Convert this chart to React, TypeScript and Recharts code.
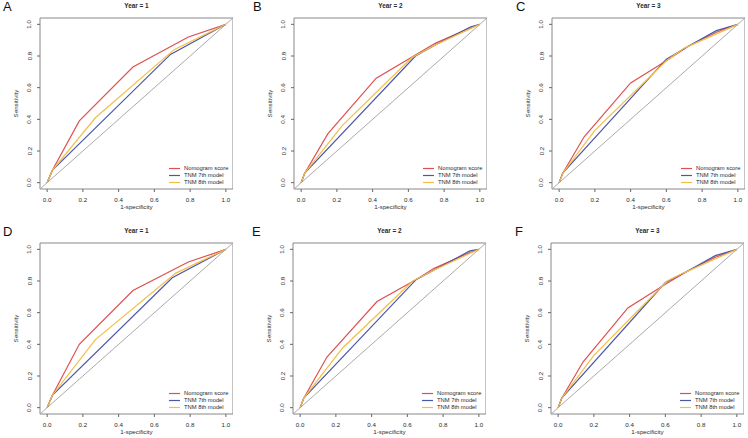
import { Legend, Line, LineChart, ReferenceArea, ReferenceLine, XAxis, YAxis } from "recharts"

// ROC curve points as [1-specificity, sensitivity]
const nomogramA = [[0, 0], [0.015, 0.04], [0.03, 0.08], [0.18, 0.39], [0.48, 0.73], [0.79, 0.92], [1, 1]]
const tnm7A = [[0, 0], [0.015, 0.04], [0.03, 0.08], [0.69, 0.81], [1, 1]]
const tnm8A = [[0, 0], [0.015, 0.04], [0.03, 0.08], [0.27, 0.41], [0.71, 0.84], [1, 1]]

const nomogramB = [[0, 0], [0.02, 0.06], [0.15, 0.31], [0.42, 0.66], [0.63, 0.8], [0.75, 0.88], [0.95, 0.98], [1, 1]]
const tnm7B = [[0, 0], [0.02, 0.06], [0.64, 0.8], [0.75, 0.87], [0.95, 0.985], [1, 1]]
const tnm8B = [[0, 0], [0.02, 0.06], [0.23, 0.36], [0.62, 0.79], [0.75, 0.87], [1, 1]]

const nomogramC = [[0, 0], [0.02, 0.06], [0.14, 0.29], [0.4, 0.63], [0.6, 0.77], [0.72, 0.86], [0.88, 0.95], [1, 1]]
const tnm7C = [[0, 0], [0.02, 0.06], [0.6, 0.78], [0.72, 0.86], [0.88, 0.96], [1, 1]]
const tnm8C = [[0, 0], [0.02, 0.06], [0.2, 0.33], [0.6, 0.77], [0.7, 0.85], [1, 1]]

const nomogramD = [[0, 0], [0.015, 0.04], [0.03, 0.08], [0.18, 0.4], [0.48, 0.74], [0.79, 0.92], [1, 1]]
const tnm7D = [[0, 0], [0.015, 0.04], [0.03, 0.08], [0.7, 0.82], [1, 1]]
const tnm8D = [[0, 0], [0.015, 0.04], [0.03, 0.08], [0.27, 0.43], [0.72, 0.85], [1, 1]]

const nomogramE = [[0, 0], [0.02, 0.06], [0.15, 0.32], [0.43, 0.67], [0.65, 0.81], [0.75, 0.88], [0.95, 0.98], [1, 1]]
const tnm7E = [[0, 0], [0.02, 0.06], [0.65, 0.81], [0.75, 0.87], [0.95, 0.99], [1, 1]]
const tnm8E = [[0, 0], [0.02, 0.06], [0.24, 0.38], [0.63, 0.8], [0.75, 0.87], [1, 1]]

const nomogramF = [[0, 0], [0.02, 0.06], [0.14, 0.29], [0.39, 0.63], [0.6, 0.78], [0.72, 0.86], [0.88, 0.95], [1, 1]]
const tnm7F = [[0, 0], [0.02, 0.06], [0.6, 0.79], [0.72, 0.86], [0.88, 0.96], [1, 1]]
const tnm8F = [[0, 0], [0.02, 0.06], [0.2, 0.33], [0.61, 0.8], [0.7, 0.85], [1, 1]]

const seriesNames = ["Nomogram score", "TNM 7th model", "TNM 8th model"]
const seriesColors = ["#e04f4f", "#4a58a8", "#f5bd45"]
const ticks = [0, 0.2, 0.4, 0.6, 0.8, 1]

const FONT = '"Liberation Sans", Arial, sans-serif'
const TEXT = "#2a2a2a"
const PLOT_W = 193
const PLOT_H = 171
const LEFT = 40
const TOP = 18
const BOTTOM = 26

const toPts = (arr: number[][]) => arr.map(([x, y]) => ({ x, y }))

const XTick = ({ x, y, payload }: any) => (
  <text x={x} y={y} dy={8} textAnchor="middle" fontSize={6.2} fill={TEXT} fontFamily={FONT}>
    {payload.value.toFixed(1)}
  </text>
)

const YTick = ({ x, y, payload }: any) => (
  <text
    x={x}
    y={y}
    transform={`rotate(-90 ${x} ${y})`}
    textAnchor="middle"
    fontSize={6.2}
    fill={TEXT}
    fontFamily={FONT}
  >
    {payload.value.toFixed(1)}
  </text>
)

const LegendBox = () => (
  <div style={{ fontFamily: FONT, fontSize: 5.8, color: TEXT, lineHeight: "7px" }}>
    {seriesNames.map((n, i) => (
      <div key={n} style={{ display: "flex", alignItems: "center", height: 7 }}>
        <svg width={11} height={7} style={{ marginRight: 4 }}>
          <line x1={0} x2={11} y1={3.5} y2={3.5} stroke={seriesColors[i]} strokeWidth={1.2} />
        </svg>
        <span style={{ whiteSpace: "nowrap" }}>{n}</span>
      </div>
    ))}
  </div>
)

type PanelProps = {
  letter: string
  title: string
  left: number
  top: number
  curves: number[][][]
}

function Panel({ letter, title, left, top, curves }: PanelProps) {
  return (
    <div style={{ position: "absolute", left, top, width: LEFT + PLOT_W, height: TOP + PLOT_H + BOTTOM }}>
      <LineChart
        width={LEFT + PLOT_W}
        height={TOP + PLOT_H + BOTTOM}
        margin={{ top: TOP, right: 0, bottom: 0, left: 0 }}
      >
        <XAxis
          type="number"
          dataKey="x"
          domain={[-0.04, 1.04]}
          ticks={ticks}
          allowDataOverflow
          height={BOTTOM}
          axisLine={false}
          tickSize={3}
          tickMargin={2}
          tickLine={{ stroke: "#666" }}
          tick={<XTick />}
          label={{ value: "1-specificity", position: "insideBottom", offset: 6, fontSize: 6.2, fill: TEXT, fontFamily: FONT }}
        />
        <YAxis
          type="number"
          dataKey="y"
          domain={[-0.04, 1.04]}
          ticks={ticks}
          allowDataOverflow
          width={LEFT}
          axisLine={false}
          tickSize={3}
          tickMargin={5.5}
          tickLine={{ stroke: "#666" }}
          tick={<YTick />}
          label={{
            value: "Sensitivity",
            angle: -90,
            position: "insideLeft",
            offset: 15.5,
            fontSize: 6.2,
            fill: TEXT,
            fontFamily: FONT,
            style: { textAnchor: "middle" },
          }}
        />
        <ReferenceArea
          x1={-0.04}
          x2={1.04}
          y1={-0.04}
          y2={1.04}
          fill="none"
          stroke="#888"
          strokeWidth={1}
          ifOverflow="visible"
          label={{ value: title, position: "top", offset: 10, fontSize: 6.4, fontWeight: "bold", fill: TEXT, fontFamily: FONT }}
        />
        <ReferenceLine
          segment={[{ x: -0.04, y: -0.04 }, { x: 1.04, y: 1.04 }]}
          stroke="#aaa"
          strokeWidth={1}
          ifOverflow="visible"
        />
        {curves.map((c, i) => (
          <Line
            key={seriesNames[i]}
            data={toPts(c)}
            dataKey="y"
            name={seriesNames[i]}
            type="linear"
            stroke={seriesColors[i]}
            strokeWidth={1.2}
            dot={false}
            isAnimationActive={false}
          />
        ))}
        <Legend
          layout="vertical"
          align="center"
          verticalAlign="middle"
          content={<LegendBox />}
          wrapperStyle={{ left: LEFT + PLOT_W - 64, top: TOP + PLOT_H - 24.5, width: "auto", height: "auto" }}
        />
      </LineChart>
      <div
        style={{
          position: "absolute",
          left: letter === "C" || letter === "F" ? 4 : letter === "A" || letter === "D" ? 3 : -1,
          top: -1,
          fontFamily: FONT,
          fontSize: 13,
          color: "#111",
        }}
      >
        {letter}
      </div>
    </div>
  )
}

export default function App() {
  return (
    <div style={{ position: "absolute", left: 0, top: 0, width: 748, height: 438, overflow: "hidden", background: "#fff" }}>
      <Panel letter="A" title="Year = 1" left={0} top={0} curves={[nomogramA, tnm7A, tnm8A]} />
      <Panel letter="B" title="Year = 2" left={254} top={0} curves={[nomogramB, tnm7B, tnm8B]} />
      <Panel letter="C" title="Year = 3" left={512} top={0} curves={[nomogramC, tnm7C, tnm8C]} />
      <Panel letter="D" title="Year = 1" left={0} top={225} curves={[nomogramD, tnm7D, tnm8D]} />
      <Panel letter="E" title="Year = 2" left={253} top={225} curves={[nomogramE, tnm7E, tnm8E]} />
      <Panel letter="F" title="Year = 3" left={511} top={225} curves={[nomogramF, tnm7F, tnm8F]} />
    </div>
  )
}
